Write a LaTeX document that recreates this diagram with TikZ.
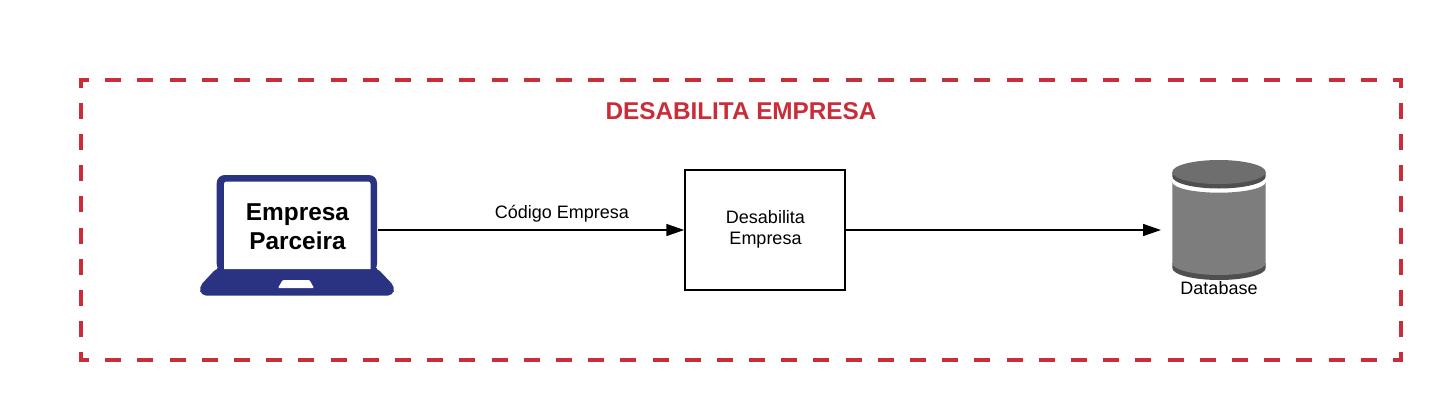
\documentclass[tikz,border=0pt]{standalone}
\usepackage{fontspec}
\setmainfont{Liberation Sans}
\usetikzlibrary{arrows.meta}
\definecolor{framered}{HTML}{C92D39}
\definecolor{laptopblue}{HTML}{2A3282}
\definecolor{dbbody}{HTML}{7D7D7D}
\definecolor{dbtop}{HTML}{6E6E6E}
\definecolor{dbrim}{HTML}{4F4F4F}
\tikzset{
  x=1pt,y=-1pt,
  frameh/.style={draw=framered,line width=4pt,dash pattern=on 16pt off 16.195pt,dash phase=6pt},
  framev/.style={draw=framered,line width=4pt,dash pattern=on 16pt off 15.11pt,dash phase=6pt},
  flow/.style={draw=black,line width=1.5pt,-{Triangle[length=18pt,width=12pt]}},
  txt/.style={font=\fontsize{18}{21}\selectfont,align=center,text=black,inner sep=0pt},
  boldtxt/.style={font=\fontsize{24.4}{29.5}\selectfont\bfseries,align=center,inner sep=0pt},
}
\begin{document}
\begin{tikzpicture}
\useasboundingbox (0,0) rectangle (1441,400);
% frame
\path[frameh] (79,80) -- (1403,80);
\path[frameh] (79,360) -- (1403,360);
\path[framev] (81,78) -- (81,362);
\path[framev] (1401,78) -- (1401,362);
\node[font=\fontsize{24.3}{28}\selectfont\bfseries,text=framered,inner sep=0pt] (title) at (741,111) {DESABILITA EMPRESA};
% laptop
\fill[laptopblue,rounded corners=8pt] (216.7,272) -- (216.7,175) -- (377,175) -- (377,272) -- cycle;
\fill[laptopblue,rounded corners=5pt] (216.7,268) -- (377,268) -- (395,287) -- (392.5,295.7) -- (201.5,295.7) -- (199,287) -- cycle;
\fill[laptopblue] (216.7,268) rectangle (377,275);
\fill[white] (224,269) -- (224,184) arc[start angle=180,end angle=90,radius=2.5pt] -- (368,181.5) arc[start angle=90,end angle=0,radius=2.5pt] -- (370.5,269) -- cycle;
\fill[white,rounded corners=1pt] (282.7,280) -- (309.5,280) -- (314,288) -- (278,288) -- cycle;
\node[boldtxt] (laptop) at (297.5,226.7) {Empresa\\Parceira};
\coordinate (laptopedge) at (378,230);
% process box
\node[draw=black,line width=1.5pt,minimum width=160pt,minimum height=120pt,inner sep=0pt,fill=white] (box) at (765,230) {};
\node[txt] (boxlabel) at (765.5,229.3) {Desabilita\\Empresa};
% database
\fill[dbrim] (1172.3,263) -- (1265.7,263) -- (1265.7,268) arc[start angle=0,end angle=-180,x radius=46.7pt,y radius=12pt] -- cycle;
\fill[dbbody] (1172.3,182) arc[start angle=180,end angle=360,x radius=46.7pt,y radius=10.7pt] -- (1265.7,263) arc[start angle=0,end angle=-180,x radius=46.7pt,y radius=12pt] -- cycle;
\fill[dbrim] (1172.3,172) -- (1265.7,172) -- (1265.7,176.5) arc[start angle=0,end angle=-180,x radius=46.7pt,y radius=12pt] -- cycle;
\fill[dbtop] (1219,172) ellipse[x radius=46.7pt,y radius=12pt];
\coordinate (db) at (1161,230);
\node[txt] (dblabel) at (1219,288) {Database};
% connectors
\draw[flow] (laptopedge) -- (box.west);
\draw[flow] (box.east) -- (db);
\node[txt] (edgelabel) at (562,214) {Código Empresa};
\end{tikzpicture}
\end{document}
